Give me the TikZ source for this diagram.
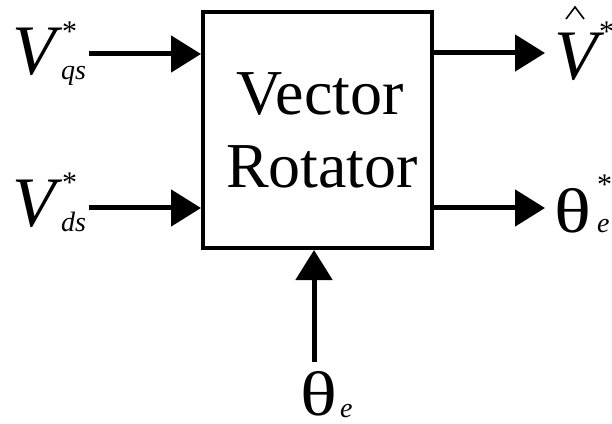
\documentclass[tikz,border=0pt]{standalone}
\usepackage{fontspec}
\setmainfont{Liberation Serif}
\newfontfamily\thetafont[FakeStretch=1.22]{Liberation Serif}
\usetikzlibrary{arrows.meta}
\begin{document}
\begin{tikzpicture}[x=1pt,y=1pt,
  sig/.style={line width=5pt,-{Triangle[length=30pt,width=36pt]}},
  lbl/.style={inner sep=0pt,anchor=base west},
  big/.style={font=\fontsize{71}{71}\selectfont\itshape},
  sub/.style={font=\fontsize{28}{28}\selectfont\itshape},
  star/.style={font=\fontsize{30}{30}\selectfont},
  theta/.style={font=\fontsize{63}{63}\thetafont}]
\useasboundingbox (0,0) rectangle (612,423);
\node[draw,line width=4pt,minimum width=229pt,minimum height=236pt,inner sep=0pt] (box) at (317.5,293) {};
\node[inner sep=0pt,anchor=base,font=\fontsize{64}{64}\selectfont] (t1) at (320,308) {Vector};
\node[inner sep=0pt,anchor=base,font=\fontsize{64}{64}\selectfont] (t2) at (322,235) {Rotator};
% inputs
\coordinate (a1) at (89,369);
\coordinate (a2) at (89,215);
\coordinate (b1) at (201,369);
\coordinate (b2) at (201,215);
\draw[sig] (a1) -- (b1);
\draw[sig] (a2) -- (b2);
% outputs
\coordinate (c1) at (434,370);
\coordinate (c2) at (434,215);
\coordinate (d1) at (545,370);
\coordinate (d2) at (545,215);
\draw[sig] (c1) -- (d1);
\draw[sig] (c2) -- (d2);
% bottom
\coordinate (e0) at (314,61);
\coordinate (e1) at (314,173);
\draw[sig] (e0) -- (e1);
% labels
\node[lbl,big] (vq) at (12,348) {V};
\node[lbl,star] (vqs) at (62,381) {*};
\node[lbl,sub] (vqsub) at (61,343) {qs};
\node[lbl,big] (vd) at (12,196) {V};
\node[lbl,star] (vds) at (62,230) {*};
\node[lbl,sub] (vdsub) at (61,191) {ds};
\node[lbl,big] (vh) at (554,343) {V};
\draw[line width=1.6pt] (566,404) -- (575,416) -- (584,404);
\node[lbl,star] (vhs) at (599,381) {*};
\node[lbl,theta] (th1) at (554,190) {θ};
\node[lbl,star] (th1s) at (597,228) {*};
\node[lbl,sub] (th1e) at (597,190) {e};
\node[lbl,theta] (th2) at (300,8) {θ};
\node[lbl,sub] (th2e) at (340,6) {e};
\end{tikzpicture}
\end{document}
